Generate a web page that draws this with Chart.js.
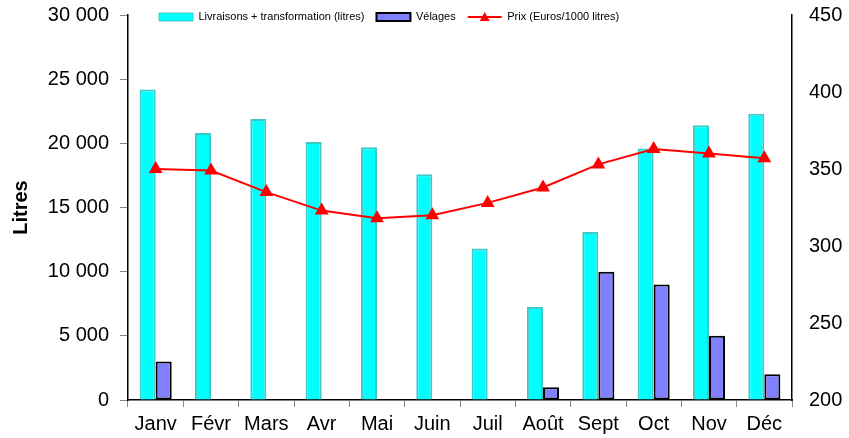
<!DOCTYPE html>
<html>
<head>
<meta charset="utf-8">
<script src="https://cdn.jsdelivr.net/npm/chart.js@4/dist/chart.umd.min.js"></script>
<style>
  body { margin: 0; background: #fff; }
  #wrap { width: 849px; height: 438px; }
</style>
</head>
<body>
<div id="wrap"><canvas id="chart" width="849" height="438"></canvas></div>
<script>
const months = ['Janv', 'Févr', 'Mars', 'Avr', 'Mai', 'Juin', 'Juil', 'Août', 'Sept', 'Oct', 'Nov', 'Déc'];
const livraisons = [24200, 20800, 21900, 20100, 19700, 17600, 11800, 7250, 13100, 19600, 21400, 22300];
const velages = [3000, null, null, null, null, null, null, 1000, 10000, 9000, 5000, 2000];
const prix = [350, 349, 335, 323, 318, 320, 328, 338, 353, 363, 360, 357];
const leftTicks = [0, 5000, 10000, 15000, 20000, 25000, 30000];
const rightTicks = [200, 250, 300, 350, 400, 450];
const seriesNames = ['Livraisons + transformation (litres)', 'Vélages', 'Prix (Euros/1000 litres)'];

Chart.defaults.font.family = "'Liberation Sans', Arial, sans-serif";
Chart.defaults.color = '#000';

function spaced(v) {
    return String(v).replace(/\B(?=(\d{3})+(?!\d))/g, ' ');
}

// legend sits over the top of the plot, so it takes no layout room
const legendPlacer = {
    id: 'legendPlacer',
    beforeLayout(chart) {
        const lg = chart.legend;
        if (lg && !lg._noRoom) {
            const fit = lg.fit.bind(lg);
            lg.fit = function () { fit(); this.height = 0; };
            lg._noRoom = true;
        }
    },
    afterLayout(chart) {
        const lg = chart.legend;
        lg.top = -0.5;
        lg.bottom = lg.top + 40;
        lg.left = 147;
        lg.right = 849;
    },
    afterDraw(chart) {
        // line + triangle marker for the price item
        const hb = chart.legend.legendHitBoxes[2];
        if (!hb) return;
        const ctx = chart.ctx;
        const y = hb.top + 5.5;
        const x0 = hb.left, x1 = hb.left + 34, xm = (x0 + x1) / 2;
        ctx.save();
        ctx.strokeStyle = '#ff0000';
        ctx.lineWidth = 2;
        ctx.beginPath();
        ctx.moveTo(x0, y);
        ctx.lineTo(x1, y);
        ctx.stroke();
        ctx.fillStyle = '#ff0000';
        ctx.beginPath();
        ctx.moveTo(xm, y - 5);
        ctx.lineTo(xm + 5, y + 4);
        ctx.lineTo(xm - 5, y + 4);
        ctx.closePath();
        ctx.fill();
        ctx.restore();
    }
};

function noEdgePadding(scale) {
    scale.paddingTop = 0;
    scale.paddingBottom = 0;
}

new Chart(document.getElementById('chart'), {
    type: 'bar',
    data: {
        labels: months,
        datasets: [
            {
                label: seriesNames[0],
                data: livraisons,
                backgroundColor: '#00ffff',
                borderColor: '#40c8c8',
                borderWidth: 2,
                yAxisID: 'y',
                order: 1
            },
            {
                label: seriesNames[1],
                data: velages,
                backgroundColor: '#8080ff',
                borderColor: '#000',
                borderWidth: 2,
                borderSkipped: false,
                yAxisID: 'y',
                order: 1
            },
            {
                type: 'line',
                label: seriesNames[2],
                data: prix,
                borderColor: '#ff0000',
                borderWidth: 2,
                pointStyle: 'triangle',
                pointRadius: 6,
                pointBackgroundColor: '#ff0000',
                pointBorderColor: '#ff0000',
                tension: 0,
                yAxisID: 'y1',
                order: 0
            }
        ]
    },
    options: {
        responsive: false,
        animation: false,
        categoryPercentage: 0.58,
        barPercentage: 1,
        layout: { padding: { top: 15, left: 0, right: 0, bottom: 0 } },
        plugins: {
            tooltip: { enabled: false },
            legend: {
                position: 'top',
                align: 'start',
                labels: {
                    boxWidth: 34,
                    boxHeight: 8,
                    padding: 12,
                    color: '#000',
                    font: { size: 11 },
                    generateLabels(chart) {
                        const ds = chart.data.datasets;
                        return [
                            { text: ds[0].label, fillStyle: ds[0].backgroundColor, strokeStyle: ds[0].borderColor, lineWidth: 1, datasetIndex: 0 },
                            { text: ds[1].label, fillStyle: ds[1].backgroundColor, strokeStyle: '#000', lineWidth: 2, datasetIndex: 1 },
                            { text: ds[2].label, fillStyle: 'rgba(0,0,0,0)', strokeStyle: 'rgba(0,0,0,0)', lineWidth: 0, datasetIndex: 2 }
                        ];
                    }
                }
            }
        },
        scales: {
            x: {
                offset: true,
                grid: { display: true, drawOnChartArea: false, offset: true, tickLength: 7, color: '#888' },
                border: { display: true, color: '#000', width: 1.5 },
                ticks: { font: { size: 20 }, padding: 5, maxRotation: 0, autoSkip: false },
                afterFit(scale) { scale.height = 38; }
            },
            y: {
                position: 'left',
                min: 0,
                max: 30000,
                afterBuildTicks(scale) { scale.ticks = leftTicks.map(v => ({ value: v })); },
                grid: { display: true, drawOnChartArea: false, tickLength: 8, color: '#888' },
                border: { display: true, color: '#000', width: 1.5 },
                ticks: { font: { size: 20 }, padding: 11, callback: v => spaced(v) },
                title: {
                    display: true,
                    text: 'Litres',
                    font: { size: 20, weight: 'bold' },
                    padding: { top: 9, bottom: 0 }
                },
                afterFit(scale) { scale.width = 128; noEdgePadding(scale); }
            },
            y1: {
                position: 'right',
                min: 200,
                max: 450,
                afterBuildTicks(scale) { scale.ticks = rightTicks.map(v => ({ value: v })); },
                grid: { display: true, drawOnChartArea: false, drawTicks: false, color: '#888' },
                border: { display: true, color: '#000', width: 1.5 },
                ticks: { font: { size: 20 }, padding: 17 },
                afterFit(scale) { scale.width = 57; noEdgePadding(scale); }
            }
        }
    },
    plugins: [legendPlacer]
});
</script>
</body>
</html>
